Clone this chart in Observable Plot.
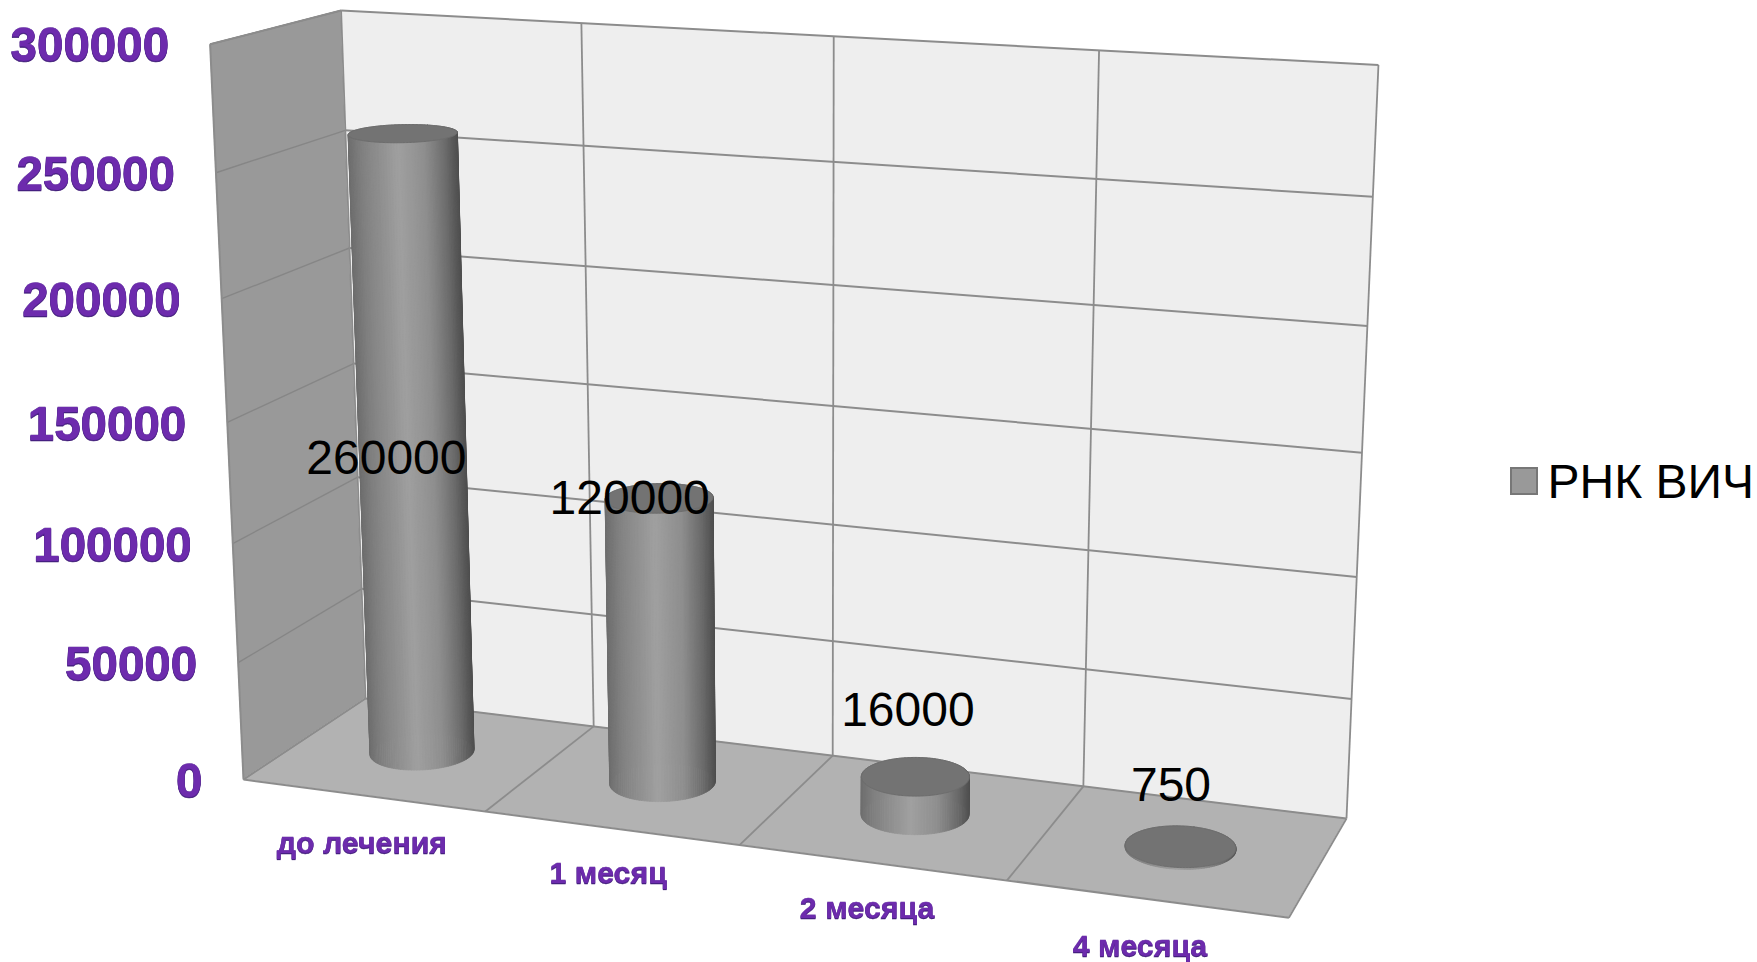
<!DOCTYPE html>
<html lang="ru">
<head>
<meta charset="utf-8">
<title>РНК ВИЧ</title>
<script src="https://cdn.jsdelivr.net/npm/d3@7"></script>
<script src="https://cdn.jsdelivr.net/npm/@observablehq/plot@0.6"></script>
<style>
  html, body { margin: 0; background: #fff; }
  svg { display: block; }
</style>
</head>
<body>
<script>
// Chart values
const categories = ["до лечения", "1 месяц", "2 месяца", "4 месяца"];
const values = [260000, 120000, 16000, 750];
const valueTicks = [0, 50000, 100000, 150000, 200000, 250000, 300000];
const seriesName = "РНК ВИЧ";

// Box corners on the page, used to build the perspective camera
const WIDTH = 1757, HEIGHT = 962, V_MAX = 300000, U_MAX = categories.length;
const backBL = [365, 698], backBR = [1346, 818], backTR = [1378, 63], backTL = [340.6, 10];
const frontBL = [243, 779], frontBR = [1288.5, 917];

// Homography taking the unit square to a quad (p00, p10, p11, p01)
function squareToQuad([x0, y0], [x1, y1], [x2, y2], [x3, y3]) {
  const dx1 = x1 - x2, dx2 = x3 - x2, sx = x0 - x1 + x2 - x3;
  const dy1 = y1 - y2, dy2 = y3 - y2, sy = y0 - y1 + y2 - y3;
  const den = dx1 * dy2 - dx2 * dy1;
  const g = (sx * dy2 - dx2 * sy) / den, h = (dx1 * sy - sx * dy1) / den;
  return {
    s: [x1 - x0 + g * x1, y1 - y0 + g * y1, g],
    t: [x3 - x0 + h * x3, y3 - y0 + h * y3, h],
    o: [x0, y0, 1]
  };
}
const wall = squareToQuad(backBL, backBR, backTR, backTL);
const floor = squareToQuad(backBL, backBR, frontBR, frontBL);
const colU = floor.s.map((d, i) => (d + wall.s[i]) / 2), colV = wall.t, colW = floor.t, col0 = wall.o;

// u: category axis, v: value axis, w: depth (0 at the back wall, 1 at the front)
function project(u, v, w) {
  const s = u / U_MAX, t = v / V_MAX;
  const h = i => s * colU[i] + t * colV[i] + w * colW[i] + col0[i];
  return [h(0) / h(2), h(1) / h(2)];
}

const quad = (a, b, c, d) => {
  // Two-point area: edge a-d sweeping over to edge b-c
  return [{p: a, q: d}, {p: b, q: c}];
};
const areaOpts = {x1: d => d.p[0], y1: d => d.p[1], x2: d => d.q[0], y2: d => d.q[1]};
const seg = (a, b) => ({a, b});
const linkOpts = {x1: d => d.a[0], y1: d => d.a[1], x2: d => d.b[0], y2: d => d.b[1]};

// Cylinders
const RU = 0.197, RW = 0.205, STEPS = 120;
const shade = d3.scaleLinear()
  .domain([0, 0.12, 0.45, 0.7, 0.88, 1])
  .range(["#6e6e6e", "#808080", "#a0a0a0", "#8e8e8e", "#6c6c6c", "#4e4e4e"]);
const rim = (c, v, a) => project(c + RU * Math.cos(a), v, 0.5 + RW * Math.sin(a));

const facets = [], tops = [];
values.forEach((value, i) => {
  const c = i + 0.5;
  const angles = d3.range(STEPS).map(k => (k / STEPS) * 2 * Math.PI);
  const xs = angles.map(a => rim(c, 0, a)[0]);
  const [xMin, xMax] = d3.extent(xs);
  const list = angles.map((a, k) => {
    const a2 = a + 2 * Math.PI / STEPS;
    const mid = rim(c, 0, a + Math.PI / STEPS)[0];
    return {a, a2, depth: Math.sin(a + Math.PI / STEPS), color: shade((mid - xMin) / (xMax - xMin)), id: `${i}-${k}`};
  }).sort((m, n) => m.depth - n.depth);
  for (const f of list) {
    facets.push({p: rim(c, 0, f.a), q: rim(c, value, f.a), color: f.color, id: f.id});
    facets.push({p: rim(c, 0, f.a2), q: rim(c, value, f.a2), color: f.color, id: f.id});
  }
  d3.range(STEPS + 1).forEach(k => {
    const a = -Math.PI / 2 + (k / STEPS) * Math.PI;
    tops.push({p: rim(c, value, a), q: rim(c, value, Math.PI - a), id: i});
  });
});

// Value labels sit at hand-placed offsets from the top of each cylinder
const labelShift = [[-17, 325], [-30, 0], [-8, -66], [-10, -61]];
const valueLabels = values.map((value, i) => {
  const [x, y] = project(i + 0.5, value, 0.5);
  return {text: String(value), x: x + labelShift[i][0], y: y + labelShift[i][1]};
});
const tickLabels = valueTicks.map(v => {
  const [x, y] = project(0, v, 1);
  return {text: String(v), x: x - 41, y: y + 2};
});
// Category labels hang below the front edge of the floor
const categoryDrop = [48, 45, 46, 47];
const categoryLabels = categories.map((name, i) => {
  const [x, y] = project(i + 0.5, 0, 1);
  return {text: name, x: x - 1 - 1.7 * i, y: y + categoryDrop[i]};
});

const LINE = "#8c8c8c";
const FONT = "Liberation Sans";
const PURPLE = "#6d2bad";
const EDGE = "#4e2090";
const bevel = "drop-shadow(0.6px 1.2px 0.4px #43207a)";

const chart = Plot.plot({
  width: WIDTH,
  height: HEIGHT,
  margin: 0,
  style: {background: "#fff"},
  x: {domain: [0, WIDTH], axis: null},
  y: {domain: [HEIGHT, 0], axis: null},
  color: {type: "identity"},
  marks: [
    // Box faces
    Plot.area(quad(project(0, 0, 0), project(U_MAX, 0, 0), project(U_MAX, V_MAX, 0), project(0, V_MAX, 0)), {...areaOpts, fill: "#eeeeee"}),
    Plot.area(quad(project(0, 0, 1), project(0, 0, 0), project(0, V_MAX, 0), project(0, V_MAX, 1)), {...areaOpts, fill: "#999999"}),
    Plot.area(quad(project(0, 0, 0), project(U_MAX, 0, 0), project(U_MAX, 0, 1), project(0, 0, 1)), {...areaOpts, fill: "#b2b2b2"}),
    // Gridlines on the side wall and the back wall
    Plot.link(valueTicks.map(v => seg(project(0, v, 1), project(0, v, 0))), {...linkOpts, stroke: "#868686", strokeWidth: 1.4}),
    Plot.link(valueTicks.map(v => seg(project(0, v, 0), project(U_MAX, v, 0))), {...linkOpts, stroke: LINE, strokeWidth: 2}),
    // Category dividers on the back wall and the floor
    Plot.link(d3.range(0, U_MAX + 1).map(u => seg(project(u, 0, 0), project(u, V_MAX, 0))), {...linkOpts, stroke: LINE, strokeWidth: 1.8}),
    Plot.link(d3.range(0, U_MAX + 1).map(u => seg(project(u, 0, 0), project(u, 0, 1))), {...linkOpts, stroke: LINE, strokeWidth: 1.8}),
    // Box outline
    Plot.link([
      seg(project(0, 0, 1), project(U_MAX, 0, 1)),
      seg(project(0, 0, 1), project(0, V_MAX, 1)),
      seg(project(0, V_MAX, 1), project(0, V_MAX, 0))
    ], {...linkOpts, stroke: LINE, strokeWidth: 2}),
    // Cylinders: side facets from back to front, then the lid
    Plot.area(facets, {...areaOpts, z: "id", fill: "color", stroke: "color", strokeWidth: 0.7}),
    Plot.area(tops, {...areaOpts, z: "id", fill: "#737373", stroke: "#6d6d6d", strokeWidth: 1}),
    // Tick labels and category labels
    Plot.text(tickLabels, {x: "x", y: "y", text: "text", textAnchor: "end", lineAnchor: "middle", fontFamily: FONT, fontWeight: "bold", fontSize: 47.5, fill: PURPLE, stroke: EDGE, strokeWidth: 0.6, imageFilter: bevel}),
    Plot.text(categoryLabels, {x: "x", y: "y", text: "text", textAnchor: "middle", lineAnchor: "middle", fontFamily: FONT, fontWeight: "bold", fontSize: 30.3, fill: PURPLE, stroke: EDGE, strokeWidth: 0.3, imageFilter: bevel}),
    // Value labels
    Plot.text(valueLabels, {x: "x", y: "y", text: "text", textAnchor: "middle", lineAnchor: "middle", fontFamily: FONT, fontSize: 48, fill: "#000"}),
    // Legend
    Plot.rect([seriesName], {x1: 1511, x2: 1537, y1: 468, y2: 494, fill: "#999999", stroke: "#777777", strokeWidth: 2}),
    Plot.text([seriesName], {x: 1547, y: 482, text: d => d, textAnchor: "start", lineAnchor: "middle", fontFamily: FONT, fontSize: 48, fill: "#000"})
  ]
});
document.body.append(chart);
</script>
</body>
</html>
